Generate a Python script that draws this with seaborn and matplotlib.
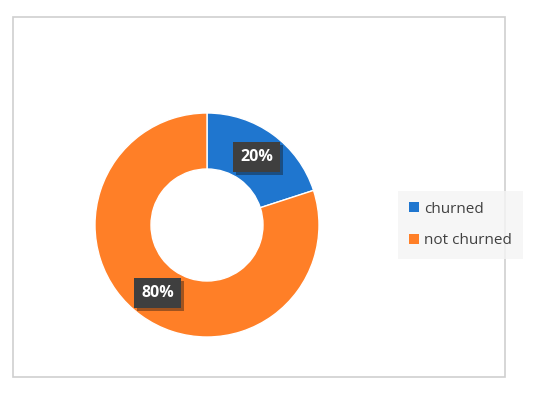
import matplotlib
matplotlib.use("Agg")
import matplotlib.pyplot as plt
import matplotlib.patheffects as pe
from matplotlib.patches import Patch, Rectangle
import seaborn as sns

sns.set_theme(style="white")
plt.rcParams["font.family"] = ["Open Sans", "DejaVu Sans"]

labels = ["churned", "not churned"]
shares = [20, 80]
colors = ["#1F76CF", "#FF7F27"]

W, H = 550, 393
fig = plt.figure(figsize=(W / 100, H / 100), dpi=100)
fig.patch.set_facecolor("white")

# outer frame
fig.patches.append(Rectangle((13 / W, 1 - 377 / H), (505 - 13) / W, (377 - 17) / H,
                             transform=fig.transFigure, fill=False,
                             edgecolor="#CFCFCF", linewidth=1.2))

cx, cy, r = 207, 225, 112
ax = fig.add_axes([(cx - r) / W, (H - cy - r) / H, 2 * r / W, 2 * r / H])
wedges, texts, autotexts = ax.pie(
    shares, colors=colors, startangle=90, counterclock=False, radius=1,
    autopct="%d%%", pctdistance=0.75,
    wedgeprops=dict(width=0.5, edgecolor="white", linewidth=1),
    textprops=dict(color="white", fontsize=11.5, fontweight="bold"),
)
for t in autotexts:
    t.set_bbox(dict(boxstyle="square,pad=0.45", facecolor="#3F3F3F", edgecolor="none"))
    t.get_bbox_patch().set_path_effects([pe.SimplePatchShadow(offset=(2, -2), alpha=0.4), pe.Normal()])
ax.set_xlim(-1, 1)
ax.set_ylim(-1, 1)
ax.set_aspect("equal")
ax.axis("off")

handles = [Patch(facecolor=c, edgecolor="none") for c in colors]
leg = fig.legend(handles, labels, loc="upper left",
                 bbox_to_anchor=(398 / W, 1 - 191 / H),
                 frameon=True, fancybox=False, fontsize=11,
                 handlelength=0.65, handleheight=0.65, handletextpad=0.35,
                 labelspacing=1.1, borderpad=0.7, borderaxespad=0)
leg.get_frame().set_facecolor("#F4F4F4")
leg.get_frame().set_edgecolor("none")
for t in leg.get_texts():
    t.set_color("#404040")

fig.savefig("out.png", dpi=100)
